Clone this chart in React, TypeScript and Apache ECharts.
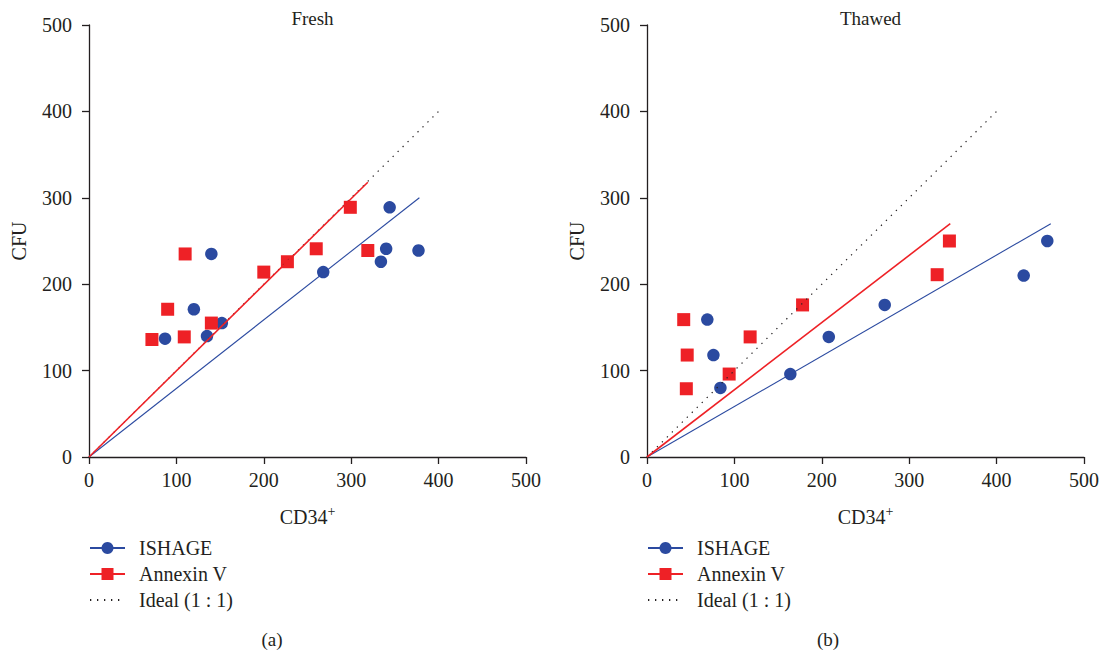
import React, { useEffect, useRef } from "react";
import * as echarts from "echarts";

const xTicks = [0, 100, 200, 300, 400, 500];
const panelTitles = ["Fresh", "Thawed"];
const panelLabels = ["(a)", "(b)"];
const seriesNames = ["ISHAGE", "Annexin V", "Ideal (1 : 1)"];

// Fresh panel
const freshIshage: number[][] = [
  [87, 137], [120, 171], [135, 140], [152, 155], [140, 235],
  [268, 214], [334, 226], [340, 241], [344, 289], [377, 239],
];
const freshAnnexin: number[][] = [
  [72, 136], [90, 171], [109, 139], [110, 235], [140, 155],
  [200, 214], [227, 226], [260, 241], [299, 289], [319, 239],
];
const freshIshageFit: number[][] = [[0, 0], [378, 300]];
const freshAnnexinFit: number[][] = [[0, 0], [319, 318]];

// Thawed panel
const thawedIshage: number[][] = [
  [69, 159], [76, 118], [84, 80], [164, 96],
  [208, 139], [272, 176], [431, 210], [458, 250],
];
const thawedAnnexin: number[][] = [
  [42, 159], [46, 118], [45, 79], [94, 96],
  [118, 139], [178, 176], [332, 211], [346, 250],
];
const thawedIshageFit: number[][] = [[0, 0], [462, 270]];
const thawedAnnexinFit: number[][] = [[0, 0], [347, 270]];

const idealLine: number[][] = [[0, 0], [400, 400]];

const BLUE = "#2b4aa0";
const RED = "#ee2126";
const INK = "#231f20";
const FONT = "Liberation Serif";

export default function App() {
  const ref = useRef<HTMLDivElement>(null);

  useEffect(() => {
    if (!ref.current) return;
    const chart = echarts.init(ref.current, undefined, { renderer: "svg" });

    const grids = [
      { left: 89, top: 25, width: 437, height: 432 },
      { left: 647, top: 25, width: 437, height: 432 },
    ];

    const axisCommon = {
      type: "value" as const,
      min: 0,
      max: 500,
      interval: 100,
      splitLine: { show: false },
      axisLine: { show: true, onZero: false, lineStyle: { color: INK, width: 1.3 } },
      axisTick: { show: true, inside: false, length: 7, lineStyle: { color: INK, width: 1.3 } },
    };

    const xAxes = grids.map((_, i) => ({
      ...axisCommon,
      gridIndex: i,
      name: "{b|CD34}{s|+}",
      nameLocation: "middle" as const,
      nameGap: 47,
      nameTextStyle: {
        rich: {
          b: { fontFamily: FONT, fontSize: 20, color: INK },
          s: { fontFamily: FONT, fontSize: 14, color: INK, verticalAlign: "top" as const, padding: [0, 0, 12, 0] },
        },
      },
      axisLabel: {
        margin: 13,
        fontFamily: FONT,
        fontSize: 20,
        color: INK,
        formatter: (v: number) => (xTicks.includes(v) ? String(v) : ""),
      },
    }));

    const yAxes = grids.map((_, i) => ({
      ...axisCommon,
      gridIndex: i,
      name: "CFU",
      nameLocation: "middle" as const,
      nameGap: 60,
      nameTextStyle: { fontFamily: FONT, fontSize: 20, color: INK },
      axisLabel: { margin: 17, fontFamily: FONT, fontSize: 20, color: INK },
    }));

    const panels = [
      { ish: freshIshage, ann: freshAnnexin, ishFit: freshIshageFit, annFit: freshAnnexinFit },
      { ish: thawedIshage, ann: thawedAnnexin, ishFit: thawedIshageFit, annFit: thawedAnnexinFit },
    ];

    const series: any[] = [];
    panels.forEach((p, i) => {
      series.push(
        {
          name: seriesNames[0],
          type: "line",
          xAxisIndex: i,
          yAxisIndex: i,
          data: p.ishFit,
          symbol: "circle",
          showSymbol: false,
          itemStyle: { color: BLUE },
          lineStyle: { color: BLUE, width: 1.1 },
          z: 4,
          silent: true,
        },
        {
          name: seriesNames[1],
          type: "line",
          xAxisIndex: i,
          yAxisIndex: i,
          data: p.annFit,
          symbol: "rect",
          showSymbol: false,
          itemStyle: { color: RED },
          lineStyle: { color: RED, width: 1.6 },
          z: 5,
          silent: true,
        },
        {
          name: seriesNames[2],
          type: "line",
          xAxisIndex: i,
          yAxisIndex: i,
          data: idealLine,
          symbol: "circle",
          showSymbol: false,
          itemStyle: { color: INK },
          lineStyle: { color: INK, width: 1.2, type: [1.3, 5.7] },
          z: 3,
          silent: true,
        },
        {
          name: seriesNames[0],
          type: "scatter",
          xAxisIndex: i,
          yAxisIndex: i,
          data: p.ish,
          symbol: "circle",
          symbolSize: 12.5,
          itemStyle: { color: BLUE, opacity: 1 },
          z: 2,
        },
        {
          name: seriesNames[1],
          type: "scatter",
          xAxisIndex: i,
          yAxisIndex: i,
          data: p.ann,
          symbol: "rect",
          symbolSize: 13,
          itemStyle: { color: RED, opacity: 1 },
          z: 2,
        }
      );
    });

    const legendData = [
      { name: seriesNames[0] },
      { name: seriesNames[1] },
      { name: seriesNames[2], itemStyle: { opacity: 0 } },
    ];

    const legends = [84, 642].map((left) => ({
      show: true,
      orient: "vertical" as const,
      left,
      top: 533,
      itemWidth: 35,
      itemHeight: 15,
      itemGap: 6,
      selectedMode: false,
      data: legendData,
      textStyle: { fontFamily: FONT, fontSize: 20, color: INK, padding: [0, 0, 0, 9] },
    }));

    const titles = [
      ...panelTitles.map((t, i) => ({
        text: t,
        left: grids[i].left + grids[i].width / 2,
        top: 4,
        textAlign: "center" as const,
        textStyle: { fontFamily: FONT, fontSize: 19, fontWeight: "normal" as const, color: INK },
      })),
      ...panelLabels.map((t, i) => ({
        text: t,
        left: i === 0 ? 267 : 823,
        top: 625,
        textAlign: "center" as const,
        textStyle: { fontFamily: FONT, fontSize: 19, fontWeight: "normal" as const, color: INK },
      })),
    ];

    chart.setOption({
      animation: false,
      backgroundColor: "#ffffff",
      title: titles,
      grid: grids,
      xAxis: xAxes,
      yAxis: yAxes,
      legend: legends,
      series,
    });

    return () => chart.dispose();
  }, []);

  return <div ref={ref} style={{ width: 1103, height: 655, position: "absolute", left: 0, top: 0 }} />;
}
